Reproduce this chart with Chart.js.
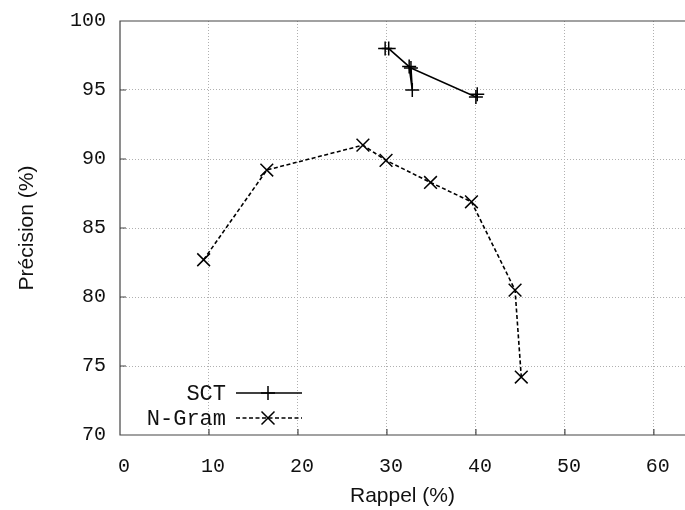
<!DOCTYPE html>
<html><head><meta charset="utf-8">
<script src="https://cdn.jsdelivr.net/npm/chart.js@4"></script>
<style>html,body{margin:0;padding:0;background:#fff}#wrap{width:685px;height:510px}</style>
</head><body><div id="wrap"><canvas id="c" width="685" height="510"></canvas></div>
<script>
// Data
const seriesNames = ['SCT', 'N-Gram'];
const sctRecall    = [29.8, 30.2, 32.5, 32.85, 32.7, 40.0, 40.15];
const sctPrecision = [98.0, 98.0, 96.7, 95.0, 96.6, 94.5, 94.7];
const ngRecall     = [9.4, 16.5, 27.3, 29.9, 34.9, 39.5, 44.4, 45.1];
const ngPrecision  = [82.7, 89.2, 91.0, 89.9, 88.3, 86.9, 80.5, 74.2];
const xTicks = [0, 10, 20, 30, 40, 50, 60];
const yTicks = [70, 75, 80, 85, 90, 95, 100];
const xTitle = 'Rappel (%)';
const yTitle = 'Précision (%)';

const toPts = (xs, ys) => xs.map((x, i) => ({x, y: ys[i]}));

const frame = {
  id: 'frame',
  beforeDatasetsDraw(chart) {
    const {ctx, chartArea: a, scales: {x, y}} = chart;
    ctx.save();
    ctx.strokeStyle = '#444';
    ctx.lineWidth = 1.2;
    ctx.beginPath();
    ctx.moveTo(a.right, a.top); ctx.lineTo(a.left, a.top);
    ctx.lineTo(a.left, a.bottom); ctx.lineTo(a.right, a.bottom);
    xTicks.forEach(v => { const px = x.getPixelForValue(v); ctx.moveTo(px, a.bottom); ctx.lineTo(px, a.bottom - 6); });
    yTicks.forEach(v => { const py = y.getPixelForValue(v); ctx.moveTo(a.left, py); ctx.lineTo(a.left + 6, py); });
    ctx.stroke();
    ctx.restore();
  },
  afterDraw(chart) {
    const {ctx} = chart;
    ctx.save();
    ctx.fillStyle = '#111';
    ctx.strokeStyle = '#000';
    ctx.font = '22px "Liberation Mono"';
    ctx.textAlign = 'right';
    ctx.textBaseline = 'middle';
    const rows = [
      {name: seriesNames[0], y: 393, dash: [], style: 'plus'},
      {name: seriesNames[1], y: 418, dash: [4, 2.5], style: 'x'}
    ];
    rows.forEach(r => {
      ctx.fillText(r.name, 226, r.y + 1);
      ctx.lineWidth = 1.5;
      ctx.setLineDash(r.dash);
      ctx.beginPath(); ctx.moveTo(236, r.y); ctx.lineTo(302, r.y); ctx.stroke();
      ctx.setLineDash([]);
      ctx.beginPath();
      const cx = 268;
      if (r.style === 'plus') {
        ctx.moveTo(cx - 7, r.y); ctx.lineTo(cx + 7, r.y);
        ctx.moveTo(cx, r.y - 7); ctx.lineTo(cx, r.y + 7);
      } else {
        ctx.moveTo(cx - 6.5, r.y - 6.5); ctx.lineTo(cx + 6.5, r.y + 6.5);
        ctx.moveTo(cx - 6.5, r.y + 6.5); ctx.lineTo(cx + 6.5, r.y - 6.5);
      }
      ctx.stroke();
    });
    ctx.restore();
  }
};

const gridColor = (edgeVals) => (c) => (c.tick && edgeVals.includes(c.tick.value)) ? 'rgba(0,0,0,0)' : '#b0b0b0';

new Chart(document.getElementById('c'), {
  type: 'scatter',
  data: {
    datasets: [
      {label: seriesNames[0], data: toPts(sctRecall, sctPrecision), showLine: true,
       borderColor: '#000', backgroundColor: '#000', borderWidth: 1.6,
       pointStyle: 'cross', pointRadius: 7, pointBorderWidth: 1.5, pointHoverRadius: 7},
      {label: seriesNames[1], data: toPts(ngRecall, ngPrecision), showLine: true,
       borderColor: '#000', backgroundColor: '#000', borderWidth: 1.6, borderDash: [4, 2.5],
       pointStyle: 'crossRot', pointRadius: 9, pointBorderWidth: 1.5, pointHoverRadius: 9}
    ]
  },
  options: {
    responsive: false, animation: false,
    layout: {autoPadding: false, padding: {top: 21, right: 0, left: 0, bottom: 0}},
    plugins: {legend: {display: false}, tooltip: {enabled: false}},
    scales: {
      x: {
        type: 'linear', min: 0, max: 63.5,
        afterBuildTicks: s => { s.ticks = xTicks.map(v => ({value: v})); },
        afterFit: s => { s.height = 75; s.paddingLeft = 0; s.paddingRight = 0; },
        border: {display: false, dash: [1, 2]},
        grid: {color: gridColor([0]), lineWidth: 1, drawTicks: false},
        ticks: {padding: 20, labelOffset: 4, color: '#111', font: {family: 'Liberation Mono', size: 20}},
        title: {display: true, text: xTitle, color: '#111', padding: {top: 0, bottom: 1},
                font: {family: 'Liberation Sans', size: 21}}
      },
      y: {
        type: 'linear', min: 70, max: 100,
        afterBuildTicks: s => { s.ticks = yTicks.map(v => ({value: v})); },
        afterFit: s => { s.width = 120; s.paddingTop = 0; s.paddingBottom = 0; },
        border: {display: false, dash: [1, 2]},
        grid: {color: gridColor([70, 100]), lineWidth: 1, drawTicks: false},
        ticks: {padding: 14, color: '#111', font: {family: 'Liberation Mono', size: 20}},
        title: {display: true, text: yTitle, color: '#111', padding: {top: 15, bottom: 0},
                font: {family: 'Liberation Sans', size: 21}}
      }
    }
  },
  plugins: [frame]
});
</script></body></html>
